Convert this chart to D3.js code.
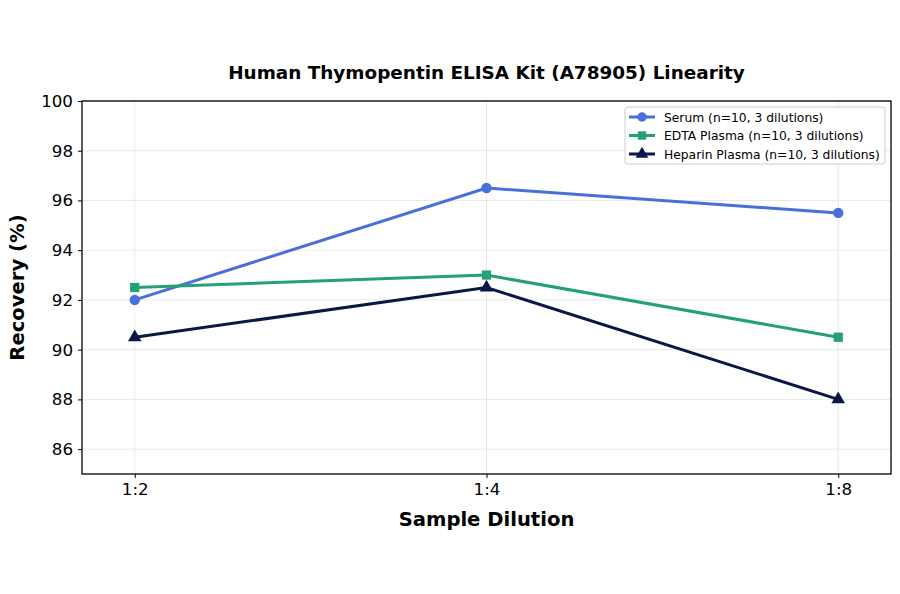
<!DOCTYPE html>
<html><head><meta charset="utf-8">
<script src="https://cdn.jsdelivr.net/npm/d3@7"></script>
<style>body{margin:0;background:#fff;} svg{font-family:"DejaVu Sans",sans-serif;}</style>
</head><body>
<svg id="c" width="900" height="594"></svg>
<script>
const categories = ["1:2", "1:4", "1:8"];
const serum = [92.0, 96.5, 95.5];
const edta = [92.5, 93.0, 90.5];
const heparin = [90.5, 92.5, 88.0];
const yTicks = [86, 88, 90, 92, 94, 96, 98, 100];
const seriesNames = ["Serum (n=10, 3 dilutions)", "EDTA Plasma (n=10, 3 dilutions)", "Heparin Plasma (n=10, 3 dilutions)"];
const colors = ["#4a6fdc", "#23a077", "#0b1847"];
const symbols = [d3.symbolCircle, d3.symbolSquare, d3.symbolTriangle];

const series = [serum, edta, heparin].map((v, i) => ({name: seriesNames[i], values: v, color: colors[i], symbol: symbols[i]}));

const svg = d3.select("#c");
const L = 82, R = 891, T = 101, B = 474;
const x = d3.scalePoint().domain(categories).range([L, R]).padding(0.15);
const y = d3.scaleLinear().domain([85, 100]).range([B, T]);

// grid
const g = svg.append("g");
g.selectAll(".gy").data(yTicks).join("line")
  .attr("x1", L).attr("x2", R).attr("y1", d => y(d)).attr("y2", d => y(d))
  .attr("stroke", "#b0b0b0").attr("stroke-opacity", 0.35).attr("stroke-width", 0.8);
g.selectAll(".gx").data(categories).join("line")
  .attr("x1", d => x(d)).attr("x2", d => x(d)).attr("y1", T).attr("y2", B)
  .attr("stroke", "#b0b0b0").attr("stroke-opacity", 0.35).attr("stroke-width", 0.8);

// axes
const xa = svg.append("g").attr("transform", `translate(0,${B})`)
  .call(d3.axisBottom(x).tickSizeOuter(0).tickSize(4).tickPadding(5));
const ya = svg.append("g").attr("transform", `translate(${L},0)`)
  .call(d3.axisLeft(y).tickValues(yTicks).tickSizeOuter(0).tickSize(4).tickPadding(5));
[xa, ya].forEach(a => {
  a.select(".domain").remove();
  a.selectAll("text").attr("font-size", "16.7px").attr("fill", "#000").attr("font-family", "DejaVu Sans");
  a.selectAll("line").attr("stroke", "#000").attr("stroke-width", 1);
});

// frame
svg.append("rect").attr("x", L).attr("y", T).attr("width", R - L).attr("height", B - T)
  .attr("fill", "none").attr("stroke", "#000").attr("stroke-width", 1.3);

// lines
const line = d3.line().x((d, i) => x(categories[i])).y(d => y(d));
series.forEach(s => {
  svg.append("path").datum(s.values).attr("d", line)
    .attr("fill", "none").attr("stroke", s.color).attr("stroke-width", 3);
  svg.selectAll(null).data(s.values).join("path")
    .attr("transform", (d, i) => `translate(${x(categories[i])},${y(d)})`)
    .attr("d", d3.symbol().type(s.symbol).size(s.symbol === d3.symbolTriangle ? 80 : 85))
    .attr("fill", s.color);
});

// title and labels
svg.append("text").attr("x", (L + R) / 2).attr("y", 79).attr("text-anchor", "middle")
  .attr("font-size", "18.4px").attr("font-weight", "bold").text("Human Thymopentin ELISA Kit (A78905) Linearity");
svg.append("text").attr("x", (L + R) / 2).attr("y", 526).attr("text-anchor", "middle")
  .attr("font-size", "19.6px").attr("font-weight", "bold").text("Sample Dilution");
svg.append("text").attr("transform", `translate(24,${(T + B) / 2}) rotate(-90)`).attr("text-anchor", "middle")
  .attr("font-size", "19.6px").attr("font-weight", "bold").text("Recovery (%)");

// legend
const lg = svg.append("g").attr("transform", "translate(625,107)");
lg.append("rect").attr("width", 260).attr("height", 57).attr("rx", 3)
  .attr("fill", "#fff").attr("fill-opacity", 0.8).attr("stroke", "#ccc").attr("stroke-width", 1);
series.forEach((s, i) => {
  const yy = 10 + i * 18.5;
  lg.append("line").attr("x1", 4).attr("x2", 30).attr("y1", yy).attr("y2", yy)
    .attr("stroke", s.color).attr("stroke-width", 3);
  lg.append("path").attr("transform", `translate(17,${yy})`)
    .attr("d", d3.symbol().type(s.symbol).size(70)).attr("fill", s.color);
  lg.append("text").attr("x", 39).attr("y", yy + 4.5).attr("font-size", "12.3px").text(s.name);
});
</script>
</body></html>
